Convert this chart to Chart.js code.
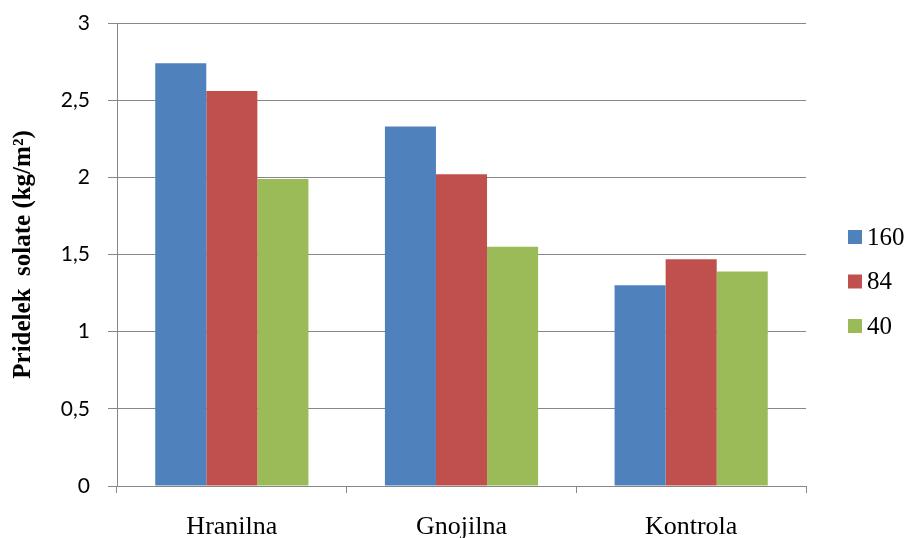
<!DOCTYPE html>
<html>
<head>
<meta charset="utf-8">
<script src="https://cdn.jsdelivr.net/npm/chart.js@4/dist/chart.umd.min.js"></script>
<style>
  html, body { margin: 0; padding: 0; background: #fff; }
  #wrap { width: 908px; height: 538px; }
</style>
</head>
<body>
<div id="wrap"><canvas id="yieldChart" width="908" height="538"></canvas></div>
<script>
// Categories and series
const categories = ['Hranilna', 'Gnojilna', 'Kontrola'];
const series160 = [2.74, 2.33, 1.30];
const series84 = [2.56, 2.02, 1.47];
const series40 = [1.99, 1.55, 1.39];
const seriesNames = ['160', '84', '40'];
const seriesColors = ['#4F81BD', '#C0504D', '#9BBB59'];
const yTicks = [0, 0.5, 1, 1.5, 2, 2.5, 3];

const serif = '"Liberation Serif", "Times New Roman", serif';

// simple legend drawn at the right side
const sideLegend = {
    id: 'sideLegend',
    afterDraw(chart) {
        const ctx = chart.ctx;
        ctx.save();
        ctx.font = '25px ' + serif;
        ctx.textBaseline = 'middle';
        chart.data.datasets.forEach((ds, i) => {
            const y = 237 + i * 44.5;
            ctx.fillStyle = ds.backgroundColor;
            ctx.fillRect(848, y - 7, 14, 14);
            ctx.fillStyle = '#000';
            ctx.fillText(ds.label, 867, y + 1);
        });
        ctx.restore();
    }
};

const ctx = document.getElementById('yieldChart').getContext('2d');
const yieldChart = new Chart(ctx, {
    type: 'bar',
    data: {
        labels: categories,
        datasets: [
            { label: seriesNames[0], data: series160, backgroundColor: seriesColors[0] },
            { label: seriesNames[1], data: series84, backgroundColor: seriesColors[1] },
            { label: seriesNames[2], data: series40, backgroundColor: seriesColors[2] }
        ]
    },
    options: {
        responsive: false,
        animation: false,
        devicePixelRatio: 1,
        categoryPercentage: 0.667,
        barPercentage: 1,
        layout: { padding: { top: 23, right: 102, bottom: 0, left: 0 } },
        plugins: {
            legend: { display: false },
            tooltip: { enabled: false }
        },
        scales: {
            x: {
                grid: {
                    offset: true,
                    drawOnChartArea: false,
                    drawTicks: true,
                    tickLength: 7,
                    color: '#878787'
                },
                border: { color: '#878787', width: 1 },
                ticks: {
                    color: '#000',
                    padding: 19,
                    maxRotation: 0,
                    font: { family: serif, size: 26 }
                },
                afterFit(scale) {
                    scale.height = 52;
                    scale.paddingLeft = 0;
                    scale.paddingRight = 0;
                }
            },
            y: {
                min: 0,
                max: 3,
                afterBuildTicks(scale) { scale.ticks = yTicks.map(v => ({ value: v })); },
                grid: { color: '#878787', tickLength: 9, lineWidth: 1 },
                border: { color: '#878787', width: 1 },
                ticks: {
                    color: '#000',
                    padding: 18,
                    font: { family: 'Lato, "Open Sans", sans-serif', size: 21 },
                    callback: v => String(v).replace('.', ',')
                },
                title: {
                    display: true,
                    text: 'Pridelek  solate (kg/m²)',
                    color: '#000',
                    padding: { top: 9, bottom: 0 },
                    font: { family: serif, size: 25, weight: 'bold' }
                },
                afterFit(scale) {
                    scale.width = 117;
                    scale.paddingTop = 0;
                    scale.paddingBottom = 0;
                }
            }
        }
    },
    plugins: [sideLegend]
});
</script>
</body>
</html>
